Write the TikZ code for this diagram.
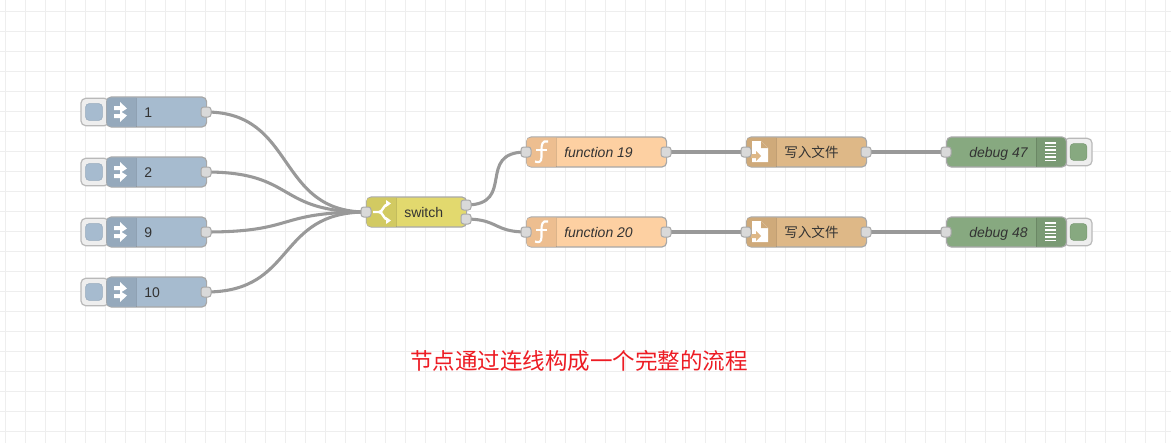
\documentclass[tikz,border=0pt]{standalone}
\usepackage{fontspec}
\setmainfont{Liberation Sans}
\newfontfamily\cjk{Noto Sans CJK SC}
\pgfdeclarelayer{gridlayer}
\pgfdeclarelayer{wirelayer}
\pgfsetlayers{gridlayer,wirelayer,main}
\definecolor{injectc}{HTML}{A6BBCF}
\definecolor{injecti}{HTML}{95A9BC}
\definecolor{funcc}{HTML}{FDD0A2}
\definecolor{funci}{HTML}{EDBE90}
\definecolor{filec}{HTML}{DEB887}
\definecolor{filei}{HTML}{CFAA7A}
\definecolor{debugc}{HTML}{87A980}
\definecolor{debugi}{HTML}{7A9A74}
\definecolor{switchc}{HTML}{E2D96E}
\definecolor{switchi}{HTML}{D2CA62}
\definecolor{edgec}{HTML}{A8A8A8}
\definecolor{wirec}{HTML}{999999}
\definecolor{gridc}{HTML}{EEEEEE}
\definecolor{portc}{HTML}{D9D9D9}
\definecolor{textc}{HTML}{333333}
\definecolor{titlec}{HTML}{ED1C24}
\definecolor{btnc}{HTML}{EEEEEE}
\tikzset{
  x=0.75pt,y=-0.75pt,
  body/.style={draw=edgec,line width=0.9pt,rounded corners=3.5pt,minimum height=22.5pt,inner sep=0pt,anchor=west},
  wide100/.style={body,minimum width=75pt},
  wide120/.style={body,minimum width=90pt},
  wide140/.style={body,minimum width=105pt},
  port/.style={draw=edgec,fill=portc,line width=0.75pt,rounded corners=2pt,minimum size=7.5pt,inner sep=0pt},
  wire/.style={draw=wirec,line width=2.3pt},
  label/.style={font=\fontsize{10.5pt}{12pt}\selectfont,text=textc,inner sep=0pt},
  clabel/.style={font=\cjk\fontsize{10.2pt}{12pt}\selectfont,text=textc,inner sep=0pt},
  ilabel/.style={font=\itshape\fontsize{10.5pt}{12pt}\selectfont,text=textc,inner sep=0pt},
  btnouter/.style={draw=edgec!80,fill=btnc,line width=0.9pt,rounded corners=3.5pt,minimum width=21pt,minimum height=20.5pt,inner sep=0pt},
  btninner/.style={rounded corners=2.5pt,minimum width=12.5pt,minimum height=12.5pt,inner sep=0pt},
  sep/.style={draw=black,draw opacity=0.12,line width=0.6pt},
}
\newcommand{\injectnode}[3]{% name, ycentre, label
  \node[btnouter] (#1btn) at (95,#2) {};
  \node[wide100,fill=injectc] (#1) at (106,#2) {};
  \node[btninner,fill=injectc,draw=injecti] (#1in) at (94,#2) {};
  \fill[injecti] (136,#2-14.5) [rounded corners=3pt] -- (106.5,#2-14.5) -- (106.5,#2+14.5) [sharp corners] -- (136,#2+14.5) -- cycle;
  \draw[sep] (136,#2-14.5) -- (136,#2+14.5);
  \fill[white] (114,#2-6) -- (120,#2-6) -- (120,#2-10) -- (127,#2-3.5) -- (120,#2+1) -- (120,#2-2) -- (114,#2-2) -- cycle;
  \fill[white] (114,#2+2) -- (120,#2+2) -- (120,#2-1) -- (127,#2+3.5) -- (120,#2+10) -- (120,#2+6) -- (114,#2+6) -- cycle;
  \node[label,anchor=base west] (#1t) at (144,#2+5) {#3};
  \node[port] (#1o) at (206,#2) {};
}
\newcommand{\funcnode}[3]{% name, ycentre, label
  \node[wide140,fill=funcc] (#1) at (526,#2) {};
  \fill[funci] (556,#2-14.5) [rounded corners=3pt] -- (526.5,#2-14.5) -- (526.5,#2+14.5) [sharp corners] -- (556,#2+14.5) -- cycle;
  \draw[sep] (556,#2-14.5) -- (556,#2+14.5);
  \draw[white,line width=1.6pt] (548,#2-10.5) .. controls (542,#2-12) and (541.5,#2-7) .. (541.5,#2-2) -- (541.5,#2+5) .. controls (541.5,#2+10) and (539,#2+11) .. (535,#2+9.5);
  \draw[white,line width=1.2pt] (536,#2-2) -- (547,#2-2);
  \node[ilabel,anchor=base west] (#1t) at (564,#2+5) {#3};
  \node[port] (#1i) at (526,#2) {};
  \node[port] (#1o) at (666,#2) {};
}
\newcommand{\filenode}[2]{% name, ycentre
  \node[wide120,fill=filec] (#1) at (746,#2) {};
  \fill[filei] (776,#2-14.5) [rounded corners=3pt] -- (746.5,#2-14.5) -- (746.5,#2+14.5) [sharp corners] -- (776,#2+14.5) -- cycle;
  \draw[sep] (776,#2-14.5) -- (776,#2+14.5);
  \fill[white] (752,#2-11) -- (761,#2-11) -- (768,#2-4) -- (768,#2+10) -- (752,#2+10) -- cycle;
  \fill[filei] (761,#2-11) -- (761,#2-4) -- (768,#2-4) -- cycle;
  \fill[filec] (751,#2+2) -- (756,#2+2) -- (756,#2-1) -- (761,#2+4) -- (756,#2+9) -- (756,#2+6) -- (751,#2+6) -- cycle;
  \node[clabel,anchor=west] (#1t) at (784,#2) {写入文件};
  \node[port] (#1i) at (746,#2) {};
  \node[port] (#1o) at (866,#2) {};
}
\newcommand{\debugnode}[3]{% name, ycentre, label
  \node[btnouter] (#1btn) at (1078,#2) {};
  \node[wide120,fill=debugc] (#1) at (946,#2) {};
  \node[btninner,fill=debugc,draw=debugi] (#1in) at (1078.5,#2) {};
  \fill[debugi] (1036,#2-14.5) [rounded corners=3pt] -- (1065.5,#2-14.5) -- (1065.5,#2+14.5) [sharp corners] -- (1036,#2+14.5) -- cycle;
  \draw[sep] (1036,#2-14.5) -- (1036,#2+14.5);
  \foreach \dy in {-9,-5.5,-2,1.5,5,8.5}
    \draw[white,line width=0.9pt] (1045,#2+\dy) -- (1056,#2+\dy);
  \node[ilabel,anchor=base east] (#1t) at (1028,#2+5) {#3};
  \node[port] (#1i) at (946,#2) {};
}
\begin{document}
\begin{tikzpicture}
\useasboundingbox (0,0) rectangle (1171,443);

\injectnode{ia}{112}{1}
\injectnode{ib}{172}{2}
\injectnode{ic}{232}{9}
\injectnode{id}{292}{10}

% switch
\node[wide100,fill=switchc] (sw) at (366,212) {};
\fill[switchi] (396,197.5) [rounded corners=3pt] -- (366.5,197.5) -- (366.5,226.5) [sharp corners] -- (396,226.5) -- cycle;
\draw[sep] (396,197.5) -- (396,226.5);
\draw[white,line width=1.8pt] (373,212) -- (379,212) .. controls (383,212) and (383,205) .. (388,204);
\draw[white,line width=1.8pt] (379,212) .. controls (383,212) and (383,219) .. (388,220);
\fill[white] (386,200) -- (391,203.5) -- (386,207) -- cycle;
\fill[white] (386,217) -- (391,220.5) -- (386,224) -- cycle;
\node[label,anchor=base west] (swt) at (404,217) {switch};
\node[port] (swi) at (366,212) {};
\node[port] (swa) at (466,205) {};
\node[port] (swb) at (466,219) {};

\funcnode{fa}{152}{function 19}
\funcnode{fb}{232}{function 20}
\filenode{wa}{152}
\filenode{wb}{232}
\debugnode{da}{152}{debug 47}
\debugnode{db}{232}{debug 48}

\node[font=\cjk\fontsize{16.9pt}{20pt}\selectfont,text=titlec,inner sep=0pt] (title) at (579,361) {节点通过连线构成一个完整的流程};

\begin{pgfonlayer}{gridlayer}
  \fill[white] (0,0) rectangle (1171,443);
  \foreach \gx in {5,25,...,1165} \draw[gridc,line width=0.75pt] (\gx,0) -- (\gx,443);
  \foreach \gy in {11,31,...,431} \draw[gridc,line width=0.75pt] (0,\gy) -- (1171,\gy);
\end{pgfonlayer}

\begin{pgfonlayer}{wirelayer}
  \foreach \src in {ia,ib,ic,id}
    \draw[wire] (\src o.center) .. controls +(68pt,0pt) and +(-68pt,0pt) .. (swi.center);
  \draw[wire] (swa.center) .. controls +(38pt,0pt) and +(-38pt,0pt) .. (fai.center);
  \draw[wire] (swb.center) .. controls +(24pt,0pt) and +(-24pt,0pt) .. (fbi.center);
  \draw[wire] (fao.center) -- (wai.center);
  \draw[wire] (fbo.center) -- (wbi.center);
  \draw[wire] (wao.center) -- (dai.center);
  \draw[wire] (wbo.center) -- (dbi.center);
\end{pgfonlayer}
\end{tikzpicture}
\end{document}
